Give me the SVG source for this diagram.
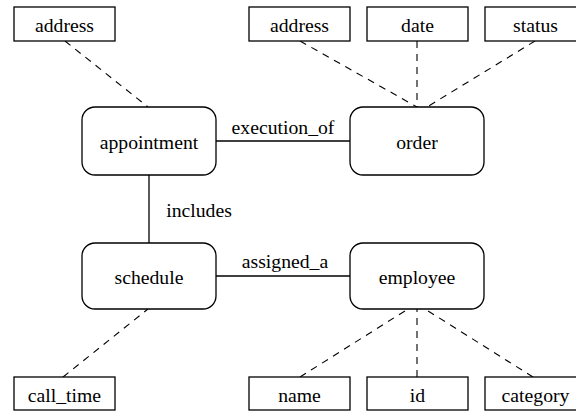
<svg xmlns="http://www.w3.org/2000/svg" width="576" height="413" viewBox="0 0 576 413">
  <style>
    .entity { fill: #ffffff; stroke: #000000; stroke-width: 1.3; }
    .attr { fill: #ffffff; stroke: #000000; stroke-width: 1.3; }
    .rel { stroke: #000000; stroke-width: 1.3; fill: none; }
    .link { stroke: #000000; stroke-width: 1.1; stroke-dasharray: 7 6; fill: none; }
    .lbl { font-family: "Liberation Serif", "Times New Roman", serif; font-size: 19.7px; fill: #000000; text-anchor: middle; }
  </style>
  <rect width="576" height="413" fill="#ffffff"/>

  <g id="connectors">
    <!-- relationships -->
    <line class="rel" x1="216" y1="141" x2="350" y2="141"/>
    <line class="rel" x1="216" y1="276" x2="350" y2="276"/>
    <line class="rel" x1="149" y1="175" x2="149" y2="243"/>
    <!-- attribute links -->
    <line class="link" x1="65" y1="41" x2="148" y2="107"/>
    <line class="link" x1="300" y1="41" x2="417" y2="107"/>
    <line class="link" x1="417" y1="41" x2="417" y2="107"/>
    <line class="link" x1="535" y1="41" x2="427" y2="107"/>
    <line class="link" x1="63" y1="377" x2="148" y2="309"/>
    <line class="link" x1="300" y1="377" x2="408" y2="309"/>
    <line class="link" x1="417" y1="377" x2="417" y2="309"/>
    <line class="link" x1="533" y1="377" x2="425" y2="309"/>
    <!-- relationship labels -->
    <text class="lbl" x="283" y="134">execution_of</text>
    <text class="lbl" x="285" y="268">assigned_a</text>
    <text class="lbl" x="199" y="217">includes</text>
  </g>

  <g id="appointment">
    <rect class="entity" x="82" y="107" width="134" height="68" rx="13"/>
    <text class="lbl" x="149" y="149">appointment</text>
  </g>
  <g id="order">
    <rect class="entity" x="350" y="107" width="134" height="68" rx="13"/>
    <text class="lbl" x="417" y="149">order</text>
  </g>
  <g id="schedule">
    <rect class="entity" x="82" y="243" width="134" height="66" rx="13"/>
    <text class="lbl" x="149" y="284">schedule</text>
  </g>
  <g id="employee">
    <rect class="entity" x="350" y="243" width="134" height="66" rx="13"/>
    <text class="lbl" x="417" y="284">employee</text>
  </g>

  <g id="appointment_address">
    <rect class="attr" x="14" y="7" width="101" height="34"/>
    <text class="lbl" x="64.5" y="32">address</text>
  </g>
  <g id="order_address">
    <rect class="attr" x="249" y="7" width="101" height="34"/>
    <text class="lbl" x="299.5" y="32">address</text>
  </g>
  <g id="order_date">
    <rect class="attr" x="367" y="7" width="101" height="34"/>
    <text class="lbl" x="417.5" y="32">date</text>
  </g>
  <g id="order_status">
    <rect class="attr" x="485" y="7" width="101" height="34"/>
    <text class="lbl" x="535.5" y="32">status</text>
  </g>
  <g id="schedule_call_time">
    <rect class="attr" x="14" y="377" width="101" height="33"/>
    <text class="lbl" x="64.5" y="402">call_time</text>
  </g>
  <g id="employee_name">
    <rect class="attr" x="249" y="377" width="101" height="33"/>
    <text class="lbl" x="299.5" y="402">name</text>
  </g>
  <g id="employee_id">
    <rect class="attr" x="367" y="377" width="101" height="33"/>
    <text class="lbl" x="417.5" y="402">id</text>
  </g>
  <g id="employee_category">
    <rect class="attr" x="485" y="377" width="101" height="33"/>
    <text class="lbl" x="535.5" y="402">category</text>
  </g>
</svg>
